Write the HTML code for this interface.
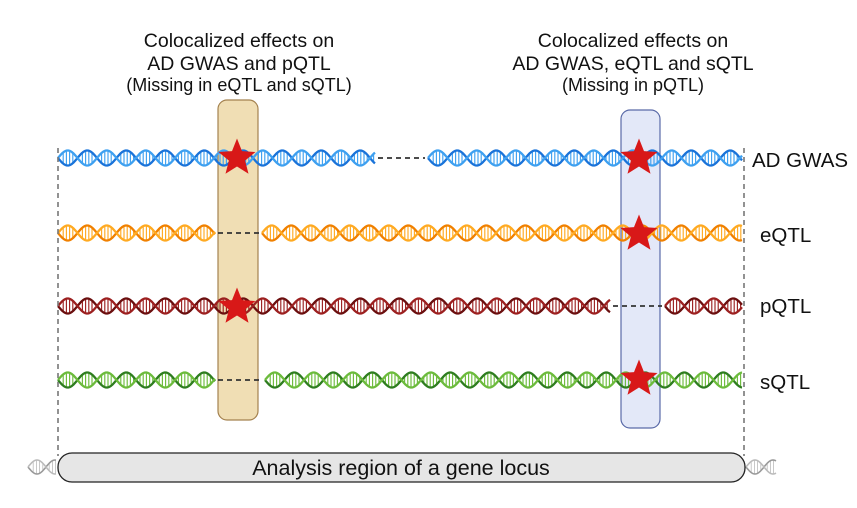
<!DOCTYPE html>
<html><head><meta charset="utf-8"><style>
html,body{margin:0;padding:0;background:#fff;}
svg{display:block;font-family:"Liberation Sans",sans-serif;}
</style></head><body>
<svg id="s" width="857" height="508" viewBox="0 0 857 508">
<rect x="218" y="100" width="40" height="320" rx="9" fill="#f0deb4" stroke="#a4824f" stroke-width="1.2"/>
<rect x="621" y="110" width="39" height="318" rx="9" fill="#e3e8f8" stroke="#5a6aa8" stroke-width="1.2"/>
<g id="dna"></g>
<line x1="58" y1="148" x2="58" y2="456" stroke="#777" stroke-width="1.6" stroke-dasharray="5,4"/>
<line x1="744" y1="148" x2="744" y2="456" stroke="#777" stroke-width="1.6" stroke-dasharray="5,4"/>
<g id="stars"></g>
<g font-size="19.5" fill="#111" text-anchor="middle">
<text x="239" y="47">Colocalized effects on</text>
<text x="239" y="70">AD GWAS and pQTL</text>
<text x="239" y="91" font-size="18">(Missing in eQTL and sQTL)</text>
</g>
<g font-size="19.5" fill="#111" text-anchor="middle">
<text x="633" y="47">Colocalized effects on</text>
<text x="633" y="70">AD GWAS, eQTL and sQTL</text>
<text x="633" y="91" font-size="18">(Missing in pQTL)</text>
</g>
<g font-size="20.5" fill="#111">
<text x="752" y="167">AD GWAS</text>
<text x="760" y="242">eQTL</text>
<text x="760" y="313">pQTL</text>
<text x="760" y="389">sQTL</text>
</g>
<g id="smalldna"></g>
<rect x="58" y="453" width="687" height="29" rx="14" fill="#e6e6e6" stroke="#222" stroke-width="1.3"/>
<text x="401" y="475" font-size="21.5" text-anchor="middle" fill="#111">Analysis region of a gene locus</text>
</svg>
<script>
const NS='http://www.w3.org/2000/svg';
const rows=[
 {y:158,c1:'#1a73d9',c2:'#3ea0f0',segs:[[58,375],[428,742]],gap:[375,428]},
 {y:233,c1:'#f08000',c2:'#ffaa22',segs:[[58,215],[262,742]],gap:[215,262]},
 {y:306,c1:'#6b0f0f',c2:'#9c2020',segs:[[58,610],[665,742]],gap:[610,665]},
 {y:380,c1:'#2e7d1f',c2:'#6cbb3c',segs:[[58,215],[265,742]],gap:[215,265]}
];
const g=document.getElementById('dna');
function helix(par,x0,x1,cy,c1,c2,A,P,w){
  let p1='',p2='';
  for(let x=x0;x<=x1;x+=0.5){
    const s=Math.sin(2*Math.PI*(x-x0)/P);
    p1+=(x===x0?'M':'L')+x+','+(cy+A*s);
    p2+=(x===x0?'M':'L')+x+','+(cy-A*s);
  }
  for(let x=x0+2;x<x1;x+=3.2){
    const s=Math.sin(2*Math.PI*(x-x0)/P);
    if(Math.abs(s)<0.35)continue;
    const l=document.createElementNS(NS,'line');
    l.setAttribute('x1',x);l.setAttribute('x2',x);
    l.setAttribute('y1',cy-A*s);l.setAttribute('y2',cy+A*s);
    l.setAttribute('stroke',c2);l.setAttribute('stroke-width',w*0.5);
    par.appendChild(l);
  }
  [[p1,c1],[p2,c2]].forEach(([d,c])=>{
    const p=document.createElementNS(NS,'path');
    p.setAttribute('d',d);p.setAttribute('fill','none');
    p.setAttribute('stroke',c);p.setAttribute('stroke-width',w);
    par.appendChild(p);
  });
}
rows.forEach((r,i)=>{
  const grp=document.createElementNS(NS,'g');
  
  
  r.segs.forEach(s=>helix(grp,s[0],s[1],r.y,r.c1,r.c2,7.5,39,2.3));
  const l=document.createElementNS(NS,'line');
  l.setAttribute('x1',r.gap[0]+3);l.setAttribute('x2',r.gap[1]-3);
  l.setAttribute('y1',r.y);l.setAttribute('y2',r.y);
  l.setAttribute('stroke','#333');l.setAttribute('stroke-width',1.8);
  l.setAttribute('stroke-dasharray','5,4');
  grp.appendChild(l);
  g.appendChild(grp);
});
const sg=document.getElementById('smalldna');
helix(sg,28,56,467,'#999','#bbb',7,36,1.6);
helix(sg,746,776,467,'#999','#bbb',7,36,1.6);
const stars=[[237,156],[237,305],[639,156],[639,232],[639,377]];
const stg=document.getElementById('stars');
stars.forEach(([cx,cy])=>{
  let d='';
  for(let k=0;k<10;k++){
    const r=k%2?8.5:19.5, a=-Math.PI/2+k*Math.PI/5;
    d+=(k?'L':'M')+(cx+r*Math.cos(a)).toFixed(1)+','+(cy+2+r*Math.sin(a)).toFixed(1);
  }
  const p=document.createElementNS(NS,'path');
  p.setAttribute('d',d+'Z');p.setAttribute('fill','#d81818');
  
  
  stg.appendChild(p);
});
</script>
</body></html>
